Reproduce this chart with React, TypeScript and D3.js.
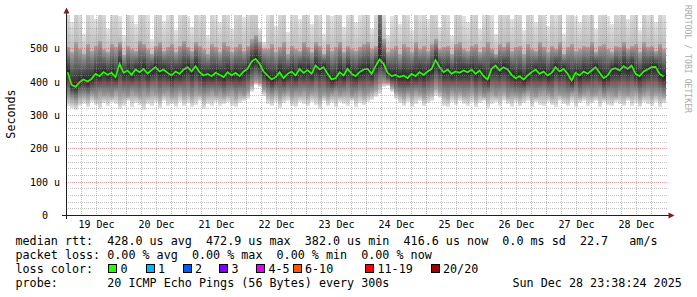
import React from 'react';
import * as d3 from 'd3';

const startTime = new Date(2025, 11, 18, 23, 38, 24);
const endTime = new Date(2025, 11, 28, 23, 38, 24);
const stepMinutes = 96;

const medianRtt = [
  430, 392, 386, 400, 408, 402, 410, 425, 418, 430,
  422, 428, 415, 455, 428, 435, 422, 438, 430, 440,
  426, 436, 445, 432, 438, 428, 420, 432, 425, 438,
  445, 432, 448, 430, 420, 425, 418, 428, 422, 415,
  430, 420, 428, 418, 432, 440, 462, 470, 455, 432,
  420, 408, 415, 430, 412, 425, 432, 420, 440, 428,
  436, 425, 450, 438, 445, 425, 408, 412, 430, 420,
  440, 425, 418, 430, 438, 440, 425, 448, 468, 455,
  428, 418, 422, 415, 420, 412, 425, 418, 430, 422,
  432, 440, 466, 445, 430, 438, 425, 432, 428, 435,
  430, 438, 425, 435, 418, 408, 440, 450, 435, 445,
  438, 422, 412, 418, 408, 420, 430, 438, 425, 432,
  420, 428, 445, 432, 440, 425, 405, 428, 420, 432,
  425, 435, 445, 428, 412, 420, 438, 442, 435, 448,
  440, 450, 425, 418, 432, 438, 445, 446, 425, 417,
];

const smokeMax = [
  640, 580, 700, 620, 545, 660, 610, 590, 720, 650,
  560, 630, 680, 600, 540, 700, 615, 575, 660, 690,
  610, 530, 650, 700, 585, 620, 670, 555, 640, 710,
  600, 565, 680, 620, 690, 540, 650, 610, 580, 700,
  630, 560, 665, 700, 595, 640, 720, 680, 560, 520,
  610, 690, 570, 640, 700, 550, 625, 660, 590, 700,
  640, 575, 690, 620, 545, 680, 600, 650, 700, 565,
  630, 690, 580, 610, 660, 700, 560, 640, 750, 620,
  540, 600, 660, 575, 700, 630, 555, 690, 610, 650,
  590, 700, 640, 565, 680, 620, 540, 660, 700, 600,
  580, 650, 690, 560, 625, 700, 610, 545, 670, 640,
  700, 590, 630, 660, 555, 690, 620, 580, 700, 640,
  570, 660, 610, 700, 545, 640, 690, 600, 580, 670,
  625, 700, 560, 650, 690, 600, 575, 660, 640, 700,
  590, 630, 680, 555, 700, 610, 650, 580, 670, 620,
];

const smokeHi = [
  505, 490, 520, 500, 485, 515, 495, 510, 525, 500,
  490, 515, 505, 520, 480, 510, 500, 495, 525, 515,
  500, 485, 510, 520, 495, 505, 515, 490, 510, 525,
  505, 495, 520, 510, 500, 485, 515, 505, 490, 520,
  510, 490, 505, 515, 495, 510, 530, 540, 520, 500,
  500, 515, 490, 505, 520, 485, 510, 500, 495, 520,
  505, 490, 520, 510, 485, 515, 495, 505, 520, 490,
  510, 500, 495, 505, 515, 520, 500, 510, 690, 530,
  490, 500, 510, 485, 515, 505, 490, 520, 500, 510,
  495, 515, 530, 500, 505, 510, 485, 515, 520, 500,
  495, 510, 515, 490, 505, 520, 500, 485, 515, 505,
  520, 495, 505, 510, 485, 515, 500, 495, 520, 505,
  490, 510, 500, 520, 485, 505, 515, 495, 500, 510,
  505, 520, 490, 510, 515, 500, 490, 510, 505, 520,
  500, 510, 515, 490, 520, 505, 510, 495, 515, 500,
];

const smokeLo = [
  360, 352, 348, 358, 362, 355, 365, 360, 368, 362,
  365, 358, 370, 362, 366, 360, 372, 364, 358, 368,
  362, 370, 365, 358, 368, 372, 360, 366, 370, 362,
  368, 360, 372, 365, 358, 366, 370, 362, 368, 360,
  365, 372, 360, 368, 362, 375, 392, 405, 398, 380,
  368, 362, 370, 358, 366, 372, 360, 368, 365, 370,
  362, 368, 372, 360, 366, 358, 364, 370, 362, 368,
  372, 360, 366, 370, 362, 368, 375, 380, 395, 402,
  398, 385, 372, 366, 360, 368, 362, 370, 365, 360,
  368, 372, 385, 375, 366, 360, 370, 364, 368, 362,
  366, 372, 360, 368, 358, 364, 370, 362, 368, 372,
  360, 366, 362, 358, 364, 370, 366, 360, 368, 372,
  365, 360, 370, 366, 362, 358, 368, 372, 360, 366,
  370, 362, 366, 372, 360, 368, 364, 358, 370, 366,
  362, 368, 372, 360, 366, 370, 362, 368, 364, 360,
];

const smokeMin = [
  330, 322, 318, 328, 335, 325, 340, 332, 320, 338,
  328, 342, 335, 320, 330, 345, 325, 338, 332, 318,
  335, 328, 340, 322, 345, 330, 336, 326, 342, 330,
  338, 325, 332, 345, 320, 335, 328, 340, 330, 336,
  342, 330, 325, 338, 345, 350, 372, 392, 385, 360,
  335, 328, 340, 322, 338, 345, 330, 325, 342, 335,
  328, 340, 333, 320, 345, 330, 338, 326, 342, 335,
  330, 345, 325, 338, 332, 340, 348, 355, 365, 385,
  390, 372, 350, 338, 330, 342, 325, 336, 345, 330,
  338, 345, 360, 352, 330, 325, 340, 332, 345, 336,
  330, 342, 326, 338, 345, 322, 335, 340, 328, 345,
  335, 325, 342, 330, 338, 345, 326, 340, 332, 328,
  340, 332, 325, 345, 336, 330, 342, 326, 338, 345,
  330, 338, 345, 326, 340, 332, 328, 342, 335, 330,
  345, 330, 338, 326, 342, 335, 330, 340, 325, 338,
];

const yMajorTicks = [0, 100, 200, 300, 400, 500];
const yTickLabels = ['0  ', '100 u', '200 u', '300 u', '400 u', '500 u'];
const dayLabels = ['19 Dec', '20 Dec', '21 Dec', '22 Dec', '23 Dec', '24 Dec', '25 Dec', '26 Dec', '27 Dec', '28 Dec'];

const lossLabels = ['0', '1', '2', '3', '4-5', '6-10', '11-19', '20/20'];
const lossColors = ['#26ff00', '#00b8ff', '#0059ff', '#7e00ff', '#dd00ff', '#ff5500', '#ff0000', '#a00000'];
const lossSwatchX = [108, 145.5, 182.5, 219, 256, 292.5, 365, 430.5];

const legendRow1 = 'median rtt:  428.0 us avg  472.9 us max  382.0 us min  416.6 us now  0.0 ms sd  22.7   am/s';
const legendRow2 = 'packet loss: 0.00 % avg  0.00 % max  0.00 % min  0.00 % now';
const legendRow3 = 'loss color:';
const legendRow4 = 'probe:       20 ICMP Echo Pings (56 Bytes) every 300s';
const timestampText = 'Sun Dec 28 23:38:24 2025';
const yAxisTitle = 'Seconds';
const watermark = 'RRDTOOL / TOBI OETIKER';

const W = 697;
const H = 297;
const MONO = '"DejaVu Sans Mono", monospace';

const grad = (id: string, bottom: string, top: string) => (
  <linearGradient id={id} x1="0" y1="1" x2="0" y2="0">
    <stop offset="0" stopColor={bottom} />
    <stop offset="1" stopColor={top} />
  </linearGradient>
);

export default function App() {
  const x = d3.scaleTime().domain([startTime, endTime]).range([65.6, 665.6]);
  const y = d3.scaleLinear().domain([0, 600]).range([215.5, 15.5]);
  const times = medianRtt.map((_, i) => d3.timeMinute.offset(startTime, i * stepMinutes));
  const crisp = (v: number) => Math.floor(v) + 0.5;

  const minorY = d3.range(20, 600, 20).filter((v) => v % 100 !== 0);
  const majorY = yMajorTicks.filter((v) => v > 0);
  const hours6 = d3.timeHour.every(6)!.range(startTime, endTime).filter((d) => d.getHours() !== 0);
  const days = d3.timeDay.range(startTime, endTime);
  const noons = days.map((d) => d3.timeHour.offset(d, 12));

  const cols = medianRtt.map((m, i) => {
    const x0 = Math.round(x(times[i]));
    const x1 = Math.round(i + 1 < times.length ? x(times[i + 1]) : x(endTime));
    return {
      x0,
      x1,
      segs: [
        [smokeMin[i], smokeLo[i], 'url(#gLow)'],
        [smokeLo[i], m, 'url(#gLowCore)'],
        [m, smokeHi[i], 'url(#gHighCore)'],
        [smokeHi[i], smokeMax[i], 'url(#gHigh)'],
      ] as [number, number, string][],
    };
  });

  const lineData = medianRtt.map((m, i) => [x(times[i]) + 2, y(m)] as [number, number]);
  const medianPath = d3.line().curve(d3.curveLinear)(lineData) || '';

  return (
    <svg width={W} height={H} style={{ position: 'absolute', left: 0, top: 0, background: '#fff' }}>
      <rect x={0} y={0} width={W} height={H} fill="#ffffff" />
      <defs>
        <clipPath id="plot">
          <rect x={67} y={15} width={600} height={200} />
        </clipPath>
        {grad('gLow', '#e6e6e6', '#9a9a9a')}
        {grad('gLowCore', '#9a9a9a', '#262626')}
        {grad('gHighCore', '#262626', '#a4a4a4')}
        {grad('gHigh', '#bcbcbc', '#e2e2e2')}
      </defs>
      <g clipPath="url(#plot)" shapeRendering="crispEdges">
        {cols.map((c, i) => (
          <g key={i}>
            {c.segs.map((s, j) => {
              const yt = Math.round(y(s[1]));
              const yb = Math.round(y(s[0]));
              if (yb - yt <= 0) return null;
              return <rect key={j} x={c.x0} y={yt} width={c.x1 - c.x0} height={yb - yt} fill={s[2]} />;
            })}
          </g>
        ))}
      </g>
      <path d={medianPath} fill="none" stroke="#26ff00" strokeWidth={1.7} strokeLinejoin="miter" clipPath="url(#plot)" />
      {/* grid */}
      <g shapeRendering="crispEdges">
        {minorY.map((v) => (
          <line key={'my' + v} x1={66} x2={667} y1={crisp(y(v))} y2={crisp(y(v))} stroke="rgba(143,143,143,0.55)" strokeDasharray="1,1" />
        ))}
        {hours6.map((d, i) => (
          <line key={'mx' + i} x1={crisp(x(d))} x2={crisp(x(d))} y1={15} y2={215} stroke="rgba(143,143,143,0.55)" strokeDasharray="1,1" />
        ))}
        {majorY.map((v) => (
          <line key={'My' + v} x1={66} x2={667} y1={crisp(y(v))} y2={crisp(y(v))} stroke="rgba(222,79,79,0.55)" strokeDasharray="1,1" />
        ))}
        {days.map((d, i) => (
          <line key={'Mx' + i} x1={crisp(x(d))} x2={crisp(x(d))} y1={15} y2={215} stroke="rgba(222,79,79,0.55)" strokeDasharray="1,1" />
        ))}
        {/* axes */}
        <line x1={62} x2={670} y1={215.5} y2={215.5} stroke="#1f1f1f" />
        <line x1={66.5} x2={66.5} y1={219} y2={11} stroke="#1f1f1f" />
      </g>
      <polygon points="63.5,13.5 69.5,13.5 66.5,7.5" fill="#7f1f1f" />
      <polygon points="668.5,212.5 668.5,218.5 674.5,215.5" fill="#7f1f1f" />
      {/* y tick labels */}
      {yMajorTicks.map((v, i) => (
        <text key={'yl' + v} x={60} y={crisp(y(v)) + 3.5} textAnchor="end" fontFamily={MONO} fontSize={10} fill="#000" xmlSpace="preserve" style={{ whiteSpace: 'pre' }}>
          {yTickLabels[i]}
        </text>
      ))}
      {/* x tick labels */}
      {noons.map((d, i) => (
        <text key={'xl' + i} x={x(d)} y={228} textAnchor="middle" fontFamily={MONO} fontSize={10} fill="#000">
          {dayLabels[i]}
        </text>
      ))}
      <text transform="translate(14.5,114) rotate(-90)" textAnchor="middle" fontFamily={MONO} fontSize={11.7} fill="#000">
        {yAxisTitle}
      </text>
      <text transform="translate(685,5) rotate(90)" fontFamily={MONO} fontSize={9} fill="#aaaaaa" textLength={108} lengthAdjust="spacingAndGlyphs">
        {watermark}
      </text>
      {/* legend */}
      <g fontFamily={MONO} fontSize={11.73} fill="#000" style={{ whiteSpace: 'pre' }}>
        <text x={15.5} y={245} xmlSpace="preserve">{legendRow1}</text>
        <text x={15.5} y={259} xmlSpace="preserve">{legendRow2}</text>
        <text x={15.5} y={273} xmlSpace="preserve">{legendRow3}</text>
        <text x={15.5} y={287} xmlSpace="preserve">{legendRow4}</text>
        <text x={512.5} y={287} xmlSpace="preserve">{timestampText}</text>
        {lossLabels.map((l, i) => (
          <g key={l}>
            <rect x={lossSwatchX[i] + 0.5} y={264.5} width={8} height={8} fill={lossColors[i]} stroke="#000" shapeRendering="crispEdges" />
            <text x={lossSwatchX[i] + 12.5} y={273}>{l}</text>
          </g>
        ))}
      </g>
    </svg>
  );
}
